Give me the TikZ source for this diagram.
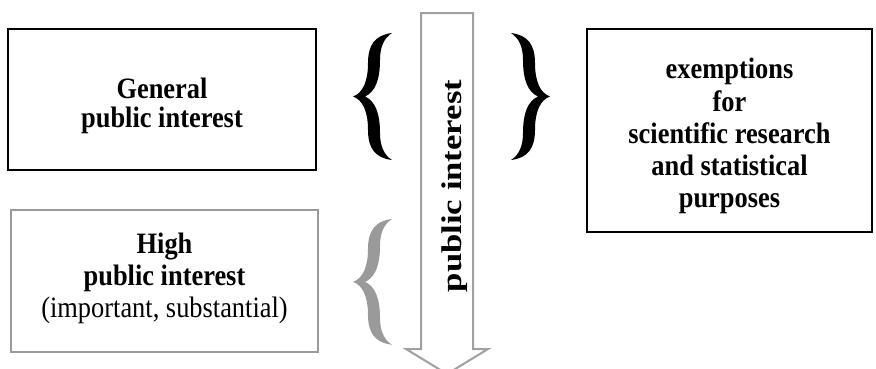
\documentclass[tikz,border=0pt]{standalone}
\usepackage{fontspec}
\setmainfont{Liberation Serif}
\usepackage{graphicx}
\definecolor{boxgray}{HTML}{9A9A9A}
\definecolor{arrgray}{HTML}{A0A0A0}
\newcommand{\txtblock}[2]{\scalebox{1}[1.12]{\fontsize{26.4}{#1}\selectfont\begin{tabular}{@{}c@{}}#2\end{tabular}}}
\tikzset{
  blackbox/.style={draw=black, line width=2.6pt, inner sep=0pt, rectangle, fill=white},
  graybox/.style={draw=boxgray, line width=2.2pt, inner sep=0pt, rectangle, fill=white},
  boxtext/.style={inner sep=0pt},
  arrowshape/.style={draw=arrgray, line width=2pt, fill=white, line join=miter},
}
\newcommand{\bracepath}{%
  (39,0) .. controls (22,2) and (15,12) .. (15,30)
  .. controls (15,48) and (10,60) .. (0,63.5)
  .. controls (10,67) and (15,79) .. (15,97)
  .. controls (15,115) and (22,125) .. (39,127)
  .. controls (31,122) and (27,113) .. (27,100)
  .. controls (27,80) and (22,68) .. (12,63.5)
  .. controls (22,59) and (27,47) .. (27,27)
  .. controls (27,14) and (31,5) .. (39,0) -- cycle}
\begin{document}
\begin{tikzpicture}[x=1pt, y=-1pt]
\useasboundingbox (0,0) rectangle (876,368);
\fill[white] (0,0) rectangle (876,368);

% boxes
\node[blackbox, minimum width=308pt, minimum height=141pt] (general) at (162,99.5) {};
\node[boxtext] (generaltxt) at (162,106.5)
  {\txtblock{24}{\textbf{General}\\ \textbf{public interest}}};
\node[graybox, minimum width=307pt, minimum height=142pt] (high) at (164.5,281) {};
\node[boxtext] (hightxt) at (164.5,279)
  {\txtblock{28.5}{\textbf{High}\\ \textbf{public interest}\\ (important, substantial)}};
\node[blackbox, minimum width=285pt, minimum height=203pt] (exempt) at (729.5,130.5) {};
\node[boxtext] (exempttxt) at (729.5,137)
  {\txtblock{28.8}{\textbf{exemptions}\\ \textbf{for}\\ \textbf{scientific research}\\ \textbf{and statistical}\\ \textbf{purposes}}};

% arrow
\draw[arrowshape] (421,13) -- (473,13) -- (473,349) -- (488,349) -- (447,374)
  -- (406,349) -- (421,349) -- cycle;
\node[inner sep=0pt, rotate=90] (pi) at (454.5,186)
  {\scalebox{1.217}[1]{\fontsize{28.5}{30}\selectfont\bfseries public interest}};

% braces
\begin{scope}[shift={(353,33)}]
  \fill[black] \bracepath;
\end{scope}
\begin{scope}[shift={(550,33)}, xscale=-1]
  \fill[black] \bracepath;
\end{scope}
\begin{scope}[shift={(353,219)}, yscale=0.99]
  \fill[boxgray] \bracepath;
\end{scope}
\end{tikzpicture}
\end{document}
